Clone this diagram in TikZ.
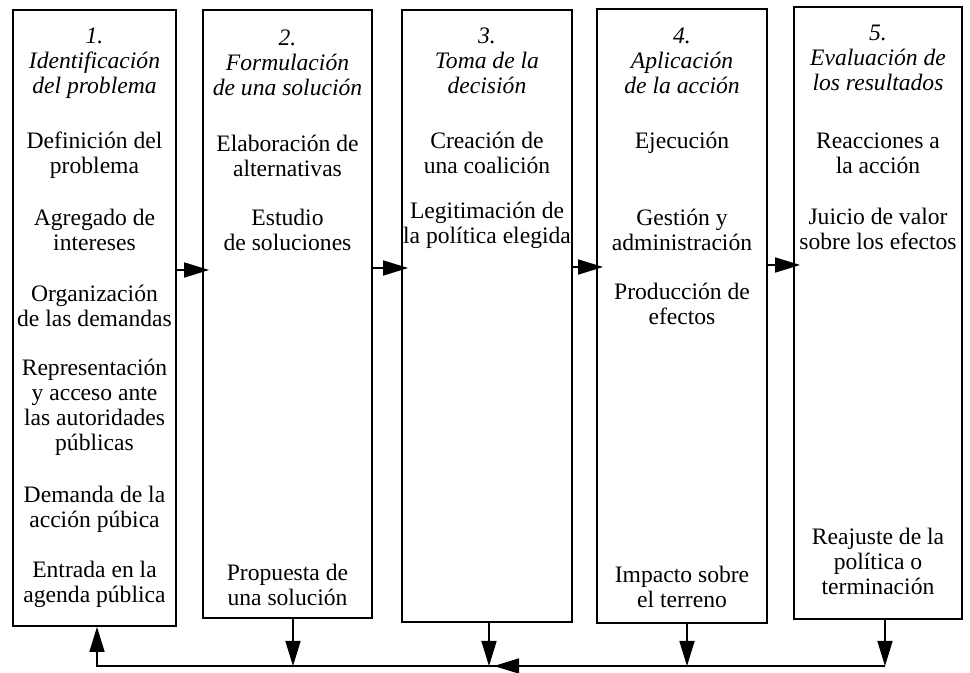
\documentclass[tikz,border=0pt]{standalone}
\usepackage{fontspec}
\setmainfont{Liberation Serif}
\usetikzlibrary{positioning,arrows.meta}

\begin{document}
\begin{tikzpicture}[
		x=0.5pt, y=-0.5pt
		,every node/.append style={align=center, inner sep=0pt, font=\fontsize{11.8}{12.5}\selectfont}
		,caja/.style={draw, line width=0.9pt}
		,tit/.style={font=\fontsize{11.8}{12.5}\selectfont\itshape}
		,flecha/.style={line width=0.8pt, -{Triangle[length=12.5pt,width=7.5pt]}}
		,linea/.style={line width=0.8pt}
	]
		\useasboundingbox (0,0) rectangle (970,673);
		% cajas
		\node [caja, minimum width=81.5pt, minimum height=308pt] (b1) at (94.5,318) {};
		\node [caja, minimum width=84.5pt, minimum height=304pt] (b2) at (287.5,314) {};
		\node [caja, minimum width=85pt, minimum height=306pt] (b3) at (487,316) {};
		\node [caja, minimum width=85pt, minimum height=307pt] (b4) at (682,316) {};
		\node [caja, minimum width=84pt, minimum height=306pt] (b5) at (878,313) {};
		% 1
		\node [tit] (h1) at (94.5,63) {1.\\Identificación\\del problema};
		\node (p11) at (94.5,155.5) {Definición del\\problema};
		\node (p12) at (94.5,230) {Agregado de\\intereses};
		\node (p13) at (94.5,305.5) {Organización\\de las demandas};
		\node (p14) at (94.5,407.5) {Representación\\y acceso ante\\las autoridades\\públicas};
		\node (p15) at (94.5,509.5) {Demanda de la\\acción púbica};
		\node (p16) at (94.5,584.5) {Entrada en la\\agenda pública};
		% 2
		\node [tit] (h2) at (287.5,63) {2.\\Formulación\\de una solución};
		\node (p21) at (287.5,155.5) {Elaboración de\\alternativas};
		\node (p22) at (287.5,230) {Estudio\\de soluciones};
		\node (p23) at (287.5,585) {Propuesta de\\una solución};
		% 3
		\node [tit] (h3) at (487,61) {3.\\Toma de la\\decisión};
		\node (p31) at (487,152.5) {Creación de\\una coalición};
		\node (p32) at (487,225) {Legitimación de\\la política elegida};
		% 4
		\node [tit] (h4) at (682,61) {4.\\Aplicación\\de la acción};
		\node (p41) at (682,143) {Ejecución};
		\node (p42) at (682,230) {Gestión y\\administración};
		\node (p43) at (682,304) {Producción de\\efectos};
		\node (p44) at (682,587) {Impacto sobre\\el terreno};
		% 5
		\node [tit] (h5) at (878,58) {5.\\Evaluación de\\los resultados};
		\node (p51) at (878,153) {Reacciones a\\la acción};
		\node (p52) at (878,229) {Juicio de valor\\sobre los efectos};
		\node (p53) at (878,561) {Reajuste de la\\política o\\terminación};
		% flechas entre cajas
		\draw [flecha] (b1.east |- 0,270) -- ([xshift=3.5pt]b2.west |- 0,270);
		\draw [flecha] (b2.east |- 0,268) -- ([xshift=3.5pt]b3.west |- 0,268);
		\draw [flecha] (b3.east |- 0,267) -- ([xshift=3.5pt]b4.west |- 0,267);
		\draw [flecha] (b4.east |- 0,265) -- ([xshift=3.5pt]b5.west |- 0,265);
		% retorno
		\coordinate (r1) at (97,666);
		\coordinate (r2) at (293,666);
		\coordinate (r3) at (489,666);
		\coordinate (r4) at (687,666);
		\coordinate (r5) at (885,666);
		\coordinate (m) at (494,666);
		\draw [flecha] (b2.south -| r2) -- (r2);
		\draw [flecha] (b3.south -| r3) -- (r3);
		\draw [flecha] (b4.south -| r4) -- (r4);
		\draw [flecha] (b5.south -| r5) -- (r5);
		\draw [flecha] (r5) -- (r1) -- (b1.south -| r1);
		\draw [flecha] (r4) -- (m);
	\end{tikzpicture}
\end{document}
